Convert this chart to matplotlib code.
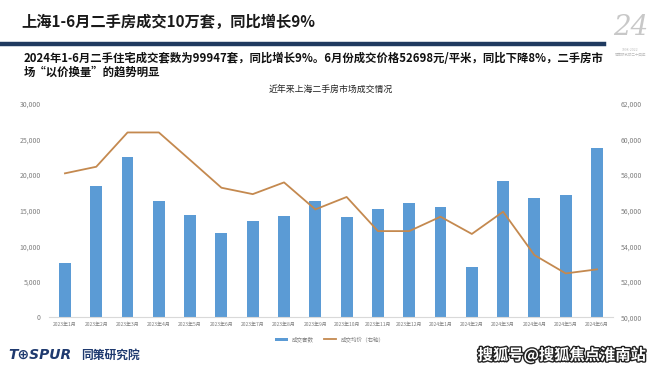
import numpy as np
import matplotlib
matplotlib.use("Agg")
import matplotlib.pyplot as plt
import matplotlib.patheffects as pe

plt.rcParams['font.family'] = ['Noto Sans CJK SC', 'DejaVu Sans']

# data
months = ["2023年1月", "2023年2月", "2023年3月", "2023年4月", "2023年5月", "2023年6月",
          "2023年7月", "2023年8月", "2023年9月", "2023年10月", "2023年11月", "2023年12月",
          "2024年1月", "2024年2月", "2024年3月", "2024年4月", "2024年5月", "2024年6月"]
volume = [7700, 18400, 22500, 16400, 14400, 11900, 13500, 14200, 16400, 14100,
          15300, 16100, 15500, 7100, 19200, 16800, 17200, 23800]
price = [58100, 58470, 60400, 60400, 58850, 57290, 56930, 57590, 56070, 56770,
         54850, 54850, 55660, 54690, 55940, 53500, 52470, 52698]

bar_color = "#5B9BD5"
line_color = "#C4894F"
tick_color = "#7F7F7F"

fig = plt.figure(figsize=(6.6, 3.72), dpi=100)
fig.patch.set_facecolor("white")

# header
fig.text(0.032, 0.94, "上海1-6月二手房成交10万套，同比增长9%", fontsize=11,
         fontweight="bold", color="#1a1a1a", va="center", ha="left")
fig.add_artist(plt.Line2D([0, 0.915], [0.882, 0.882], color="#1F3A5F", lw=3.2))
fig.text(0.036, 0.843, "2024年1-6月二手住宅成交套数为99947套，同比增长9%。6月份成交价格52698元/平米，同比下降8%，二手房市",
         fontsize=8.2, fontweight="bold", color="#111111", va="center", ha="left")
fig.text(0.036, 0.806, "场“以价换量”的趋势明显", fontsize=8.2, fontweight="bold",
         color="#111111", va="center", ha="left")

# "24" badge top right
fig.text(0.955, 0.925, "24", fontsize=20, style="italic", family="DejaVu Serif",
         color="#C8C8C8", ha="center", va="center")
fig.text(0.955, 0.86, "1998-2022\n同策研究院二十四年", fontsize=2.5, color="#BBBBBB",
         ha="center", va="center")

ax = fig.add_axes([0.0747, 0.147, 0.8536, 0.5734])
x = np.arange(len(months))
ax.bar(x, volume, width=0.38, color=bar_color, label="成交套数", zorder=2)
ax.set_ylim(0, 30000)
ax.set_xlim(-0.5, len(months) - 0.5)
ax.set_yticks(np.arange(0, 30001, 5000))
ax.set_yticklabels([f"{v:,}" for v in range(0, 30001, 5000)])
ax.set_xticks(x)
ax.set_xticklabels(months, fontsize=3.6, color=tick_color)
ax.tick_params(axis="y", labelsize=5, colors=tick_color, length=0, pad=6)
ax.tick_params(axis="x", length=0, pad=3)
for s in ["top", "right", "left"]:
    ax.spines[s].set_visible(False)
ax.spines["bottom"].set_color("#D9D9D9")
ax.spines["bottom"].set_linewidth(0.8)

ax2 = ax.twinx()
ax2.plot(x, price, color=line_color, lw=1.3, label="成交均价（右轴）", zorder=3)
ax2.set_ylim(50000, 62000)
ax2.set_yticks(np.arange(50000, 62001, 2000))
ax2.set_yticklabels([f"{v:,}" for v in range(50000, 62001, 2000)])
ax2.tick_params(axis="y", labelsize=5, colors=tick_color, length=0, pad=6)
for s in ["top", "right", "left", "bottom"]:
    ax2.spines[s].set_visible(False)

ax.set_title("近年来上海二手房市场成交情况", fontsize=6.4, color="#222222", pad=9)

h1, l1 = ax.get_legend_handles_labels()
h2, l2 = ax2.get_legend_handles_labels()
leg = fig.legend(h1 + h2, l1 + l2, loc="center", bbox_to_anchor=(0.5, 0.088), ncol=2,
                 frameon=False, fontsize=4, handlelength=2.2, columnspacing=1.8,
                 handleheight=0.4)
for t in leg.get_texts():
    t.set_color(tick_color)

# footer
fig.text(0.012, 0.045, "T⊕SPUR", fontsize=10, fontweight="bold", style="italic",
         family="DejaVu Sans", color="#1F3A6F", va="center", ha="left")
fig.text(0.123, 0.045, "同策研究院", fontsize=8.5, fontweight="bold", style="italic",
         color="#1F3A6F", va="center", ha="left")
fig.text(0.851, 0.045, "搜狐号@搜狐焦点淮南站", fontsize=11, fontweight="bold",
         color="white", va="center", ha="center",
         path_effects=[pe.withStroke(linewidth=2, foreground="#222222")])

fig.savefig("out.png", dpi=100, facecolor="white")
